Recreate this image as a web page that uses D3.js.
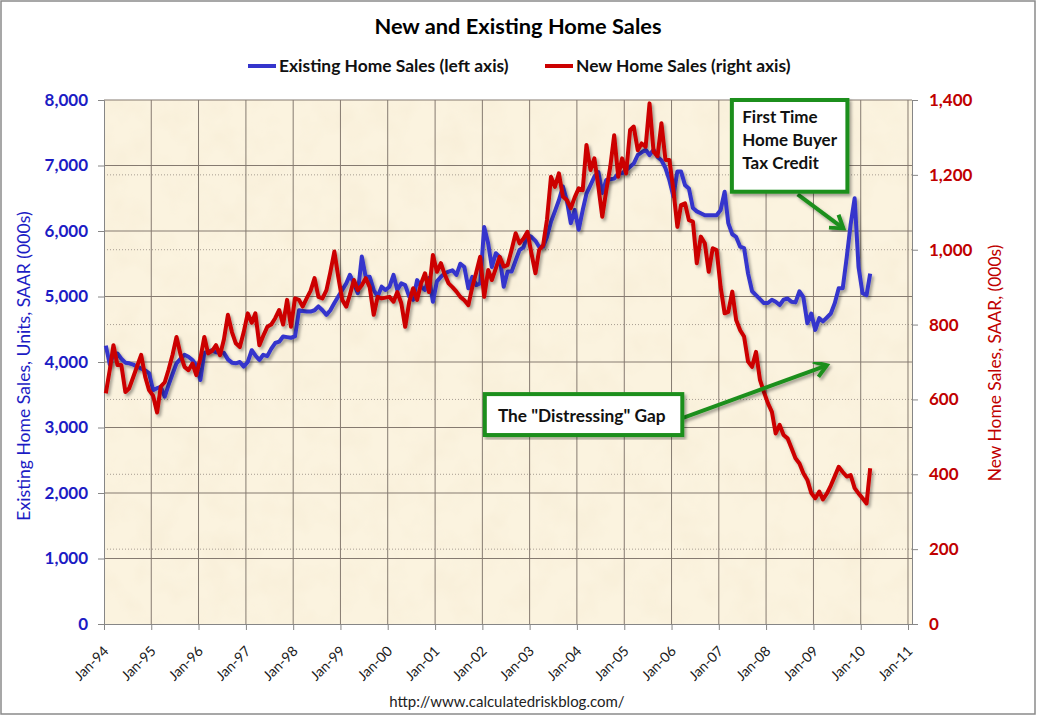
<!DOCTYPE html>
<html>
<head>
<meta charset="utf-8">
<title>New and Existing Home Sales</title>
<script src="https://cdn.jsdelivr.net/npm/d3@7"></script>
<style>
	body { margin: 0; background: #fff; }
	svg { display: block; font-family: Lato, "DejaVu Sans", sans-serif; }
</style>
</head>
<body>
<div id="chart-area"></div>
<script>

// Monthly series, Jan-94 .. Mar-10, thousands SAAR
const firstMonth = [1994, 0];

const existingSales = [
	4250, 3960, 4120, 4130, 4050, 3990, 3980, 3960, 3930, 3900, 3870, 3830,
	3570, 3600, 3620, 3470, 3650, 3820, 3980, 4050, 4110, 4080, 4030, 3950,
	3725, 4140, 4160, 4180, 4150, 4140, 4140, 4040, 3990, 3980, 4000, 3930,
	4000, 4180, 4100, 4030, 4110, 4090, 4200, 4290, 4310, 4390, 4380, 4370,
	4390, 4790, 4780, 4770, 4770, 4790, 4850, 4790, 4720, 4790, 4900, 5000,
	5100, 5200, 5330, 5200, 5050, 5610, 5300, 5300, 5100, 5000, 5150, 5100,
	5150, 5330, 5100, 5200, 5175, 5000, 4950, 5250, 5150, 5100, 5280, 4920,
	5230, 5300, 5350, 5380, 5400, 5330, 5500, 5450, 5125, 5300, 5175, 5200,
	6060, 5810, 5450, 5660, 5600, 5150, 5380, 5380, 5550, 5710, 5750, 5940,
	5910, 5850, 5760, 5760, 5910, 6140, 6300, 6470, 6680, 6470, 6120, 6320,
	6020, 6320, 6570, 6700, 6830, 6900, 6580, 6780, 6790, 6800, 6880, 6880,
	6930, 6980, 7030, 7160, 7200, 7240, 7160, 7240, 7130, 7080, 6960, 6780,
	6530, 6910, 6910, 6700, 6650, 6350, 6300, 6270, 6240, 6240, 6240, 6240,
	6320, 6600, 6120, 5950, 5910, 5760, 5740, 5350, 5080, 5020, 4960, 4900,
	4900, 4950, 4920, 4870, 4950, 4970, 4920, 4910, 5080, 4990, 4590, 4740,
	4490, 4670, 4620, 4680, 4740, 4900, 5125, 5125, 5600, 6100, 6500, 5450,
	5050, 5020, 5350
];

const newSales = [
	616, 680, 745, 692, 692, 620, 630, 660, 690, 719, 661, 625,
	610, 565, 634, 646, 680, 720, 767, 720, 687, 678, 696, 665,
	710, 767, 723, 730, 745, 718, 760, 826, 780, 750, 740, 780,
	830, 805, 830, 745, 770, 794, 800, 817, 839, 800, 866, 794,
	870, 866, 848, 870, 890, 924, 874, 870, 892, 940, 995, 928,
	866, 848, 880, 919, 892, 905, 924, 900, 826, 874, 870, 872,
	874, 861, 887, 857, 794, 860, 897, 866, 910, 937, 887, 986,
	941, 964, 935, 910, 900, 888, 874, 865, 852, 900, 940, 981,
	874, 946, 919, 950, 981, 955, 959, 1000, 1044, 1017, 1030, 1048,
	990, 937, 999, 1012, 1080, 1195, 1168, 1204, 1142, 1133, 1111, 1140,
	1164, 1159, 1280, 1213, 1244, 1168, 1088, 1159, 1222, 1306, 1195, 1244,
	1204, 1320, 1329, 1266, 1284, 1275, 1391, 1262, 1250, 1338, 1240, 1240,
	1160, 1061, 1119, 1124, 1079, 1075, 964, 1035, 1017, 941, 1004, 999,
	900, 830, 834, 888, 812, 785, 768, 701, 687, 727, 652, 620,
	590, 567, 509, 532, 505, 496, 470, 443, 429, 403, 385, 350,
	336, 354, 333, 349, 370, 395, 420, 406, 394, 398, 363, 349,
	336, 322, 416
];

const yearLabels = ["Jan-94", "Jan-95", "Jan-96", "Jan-97", "Jan-98", "Jan-99", "Jan-00", "Jan-01", "Jan-02",
	"Jan-03", "Jan-04", "Jan-05", "Jan-06", "Jan-07", "Jan-08", "Jan-09", "Jan-10", "Jan-11"];
const leftTicks = [0, 1000, 2000, 3000, 4000, 5000, 6000, 7000, 8000];
const rightTicks = [0, 200, 400, 600, 800, 1000, 1200, 1400];
const seriesNames = ["Existing Home Sales (left axis)", "New Home Sales (right axis)"];
const taxCreditText = ["First Time", "Home Buyer", "Tax Credit"];
const gapText = "The \"Distressing\" Gap";


/*
 * HomeSalesChart - two lines on two y axes, with call-out boxes
 */

class HomeSalesChart {

	constructor(parentElement, existing, fresh) {
		this.parentElement = parentElement;
		this.existing = existing;
		this.fresh = fresh;
		this.initVis();
	}

	initVis() {
		let vis = this;

		vis.margin = { top: 100, right: 125, bottom: 92, left: 104 };
		vis.width = 1037 - vis.margin.left - vis.margin.right;
		vis.height = 716 - vis.margin.top - vis.margin.bottom;

		vis.root = d3.select('#' + vis.parentElement).append("svg")
			.attr("width", 1037)
			.attr("height", 716);

		let defs = vis.root.append("defs");

		// parchment look of the plot area
		let paper = defs.append("filter").attr("id", "paper")
			.attr("x", 0).attr("y", 0).attr("width", 1).attr("height", 1);
		paper.append("feTurbulence")
			.attr("type", "fractalNoise")
			.attr("baseFrequency", "0.03")
			.attr("numOctaves", 3)
			.attr("seed", 7);
		paper.append("feColorMatrix")
			.attr("type", "matrix")
			.attr("values", "0 0 0 0 0.91  0 0 0 0 0.82  0 0 0 0 0.64  0.9 0 0 0 -0.36");
		paper.append("feComposite").attr("in2", "SourceGraphic").attr("operator", "in");

		defs.append("filter").attr("id", "shadow")
			.attr("x", "-5%").attr("y", "-5%").attr("width", "115%").attr("height", "115%")
			.append("feDropShadow")
			.attr("dx", 2).attr("dy", 2.5)
			.attr("stdDeviation", 1.4)
			.attr("flood-color", "#000")
			.attr("flood-opacity", 0.35);

		defs.append("marker").attr("id", "arrow")
			.attr("markerUnits", "userSpaceOnUse")
			.attr("markerWidth", 20).attr("markerHeight", 20)
			.attr("refX", 15).attr("refY", 10)
			.attr("orient", "auto")
			.append("path")
			.attr("d", "M3,2 L15,10 L3,18")
			.attr("fill", "none")
			.attr("stroke", "#1f8f1f")
			.attr("stroke-width", 4);

		// outer frame
		vis.root.append("rect")
			.attr("x", 1).attr("y", 1)
			.attr("width", 1034).attr("height", 713)
			.attr("fill", "#fff")
			.attr("stroke", "#8a8a8a")
			.attr("stroke-width", 1.5);

		vis.svg = vis.root.append("g")
			.attr("transform", "translate(" + vis.margin.left + "," + vis.margin.top + ")");

		vis.svg.append("rect")
			.attr("width", vis.width).attr("height", vis.height)
			.attr("fill", "#fbf3df");
		vis.svg.append("rect")
			.attr("width", vis.width).attr("height", vis.height)
			.attr("fill", "#fff")
			.attr("filter", "url(#paper)");

		// scales
		vis.x = d3.scaleTime()
			.domain([new Date(1994, 0, 1), new Date(2011, 1, 1)])
			.range([0, vis.width]);

		vis.yLeft = d3.scaleLinear()
			.domain([0, 8000])
			.range([vis.height, 0]);

		vis.yRight = d3.scaleLinear()
			.domain([0, 1400])
			.range([vis.height, 0]);

		vis.yearDates = yearLabels.map((d, i) => new Date(1994 + i, 0, 1));

		// gridlines
		vis.svg.append("g").attr("class", "grid-right")
			.selectAll("line").data(rightTicks.slice(1, -1))
			.enter().append("line")
			.attr("x1", 0).attr("x2", vis.width)
			.attr("y1", d => vis.yRight(d)).attr("y2", d => vis.yRight(d))
			.attr("stroke", "#a79d92")
			.attr("stroke-dasharray", "1,2");

		vis.svg.append("g").attr("class", "grid-left")
			.selectAll("line").data(leftTicks.slice(1))
			.enter().append("line")
			.attr("x1", 0).attr("x2", vis.width)
			.attr("y1", d => vis.yLeft(d)).attr("y2", d => vis.yLeft(d))
			.attr("stroke", "#857a70");

		vis.svg.append("g").attr("class", "grid-x")
			.selectAll("line").data(vis.yearDates.slice(1))
			.enter().append("line")
			.attr("x1", d => vis.x(d)).attr("x2", d => vis.x(d))
			.attr("y1", 0).attr("y2", vis.height)
			.attr("stroke", "#857a70");

		// axes
		vis.xAxis = d3.axisBottom(vis.x)
			.tickValues(vis.yearDates)
			.tickSize(6)
			.tickFormat((d, i) => yearLabels[i]);

		vis.yAxisLeft = d3.axisLeft(vis.yLeft)
			.tickValues(leftTicks)
			.tickSize(6)
			.tickPadding(10)
			.tickFormat(d3.format(","));

		vis.yAxisRight = d3.axisRight(vis.yRight)
			.tickValues(rightTicks)
			.tickSize(6)
			.tickPadding(11)
			.tickFormat(d3.format(","));

		let gx = vis.svg.append("g")
			.attr("class", "x-axis")
			.attr("transform", "translate(0," + vis.height + ")")
			.call(vis.xAxis);
		gx.select(".domain").attr("d", "M-6,0.5H" + (vis.width + 6));
		gx.selectAll("text")
			.attr("text-anchor", "end")
			.attr("x", 0).attr("y", 0).attr("dy", 0)
			.attr("transform", "translate(5,28) rotate(-45)")
			.attr("fill", "#1a1a1a")
			.style("font-size", "14px");

		let gl = vis.svg.append("g").attr("class", "y-axis-left").call(vis.yAxisLeft);
		gl.selectAll("text")
			.attr("fill", "#1c1cc4")
			.style("font-size", "17px")
			.style("font-weight", "bold");

		let gr = vis.svg.append("g")
			.attr("class", "y-axis-right")
			.attr("transform", "translate(" + vis.width + ",0)")
			.call(vis.yAxisRight);
		gr.selectAll("text")
			.attr("fill", "#c00000")
			.style("font-size", "17px")
			.style("font-weight", "bold");

		vis.svg.selectAll(".domain, .tick line").attr("stroke", "#868686");
		vis.svg.selectAll(".tick text").style("font-family", "Lato, sans-serif");

		// axis titles
		vis.root.append("text")
			.attr("transform", "translate(30,366) rotate(-90)")
			.attr("text-anchor", "middle")
			.attr("fill", "#1c1cc4")
			.style("font-size", "17.6px")
			.text("Existing Home Sales, Units, SAAR (000s)");

		vis.root.append("text")
			.attr("transform", "translate(1001,363) rotate(-90)")
			.attr("text-anchor", "middle")
			.attr("fill", "#c00000")
			.style("font-size", "17.4px")
			.text("New Home Sales, SAAR, (000s)");

		// title, legend, source
		vis.root.append("text")
			.attr("x", 518).attr("y", 34)
			.attr("text-anchor", "middle")
			.style("font-size", "21.8px")
			.style("font-weight", "bold")
			.text("New and Existing Home Sales");

		let legend = vis.root.append("g").attr("class", "legend");
		let legendX = [248, 545];
		let legendColors = ["#3535cc", "#cc0000"];
		seriesNames.forEach((name, i) => {
			legend.append("line")
				.attr("x1", legendX[i]).attr("x2", legendX[i] + 28)
				.attr("y1", 66).attr("y2", 66)
				.attr("stroke", legendColors[i])
				.attr("stroke-width", 4);
			legend.append("text")
				.attr("x", legendX[i] + 31).attr("y", 71.5)
				.style("font-size", "17.4px")
				.style("font-weight", "bold")
				.attr("fill", "#111")
				.text(name);
		});

		vis.root.append("text")
			.attr("x", 507).attr("y", 707)
			.attr("text-anchor", "middle")
			.attr("fill", "#222")
			.style("font-size", "15px")
			.text("http://www.calculatedriskblog.com/");

		vis.wrangleData();
	}

	wrangleData() {
		let vis = this;

		// one point per month, dated mid month
		let toPoints = arr => arr.map((v, i) => ({
			date: new Date(firstMonth[0], firstMonth[1] + i, 15),
			value: v
		}));

		vis.existingData = toPoints(vis.existing);
		vis.newData = toPoints(vis.fresh);

		vis.updateVis();
	}

	updateVis() {
		let vis = this;

		let lineLeft = d3.line()
			.x(d => vis.x(d.date))
			.y(d => vis.yLeft(d.value));

		let lineRight = d3.line()
			.x(d => vis.x(d.date))
			.y(d => vis.yRight(d.value));

		vis.svg.append("path")
			.datum(vis.existingData)
			.attr("class", "line existing")
			.attr("d", lineLeft)
			.attr("fill", "none")
			.attr("stroke", "#3535cc")
			.attr("stroke-width", 4)
			.attr("stroke-linejoin", "round")
			.attr("filter", "url(#shadow)");

		vis.svg.append("path")
			.datum(vis.newData)
			.attr("class", "line new")
			.attr("d", lineRight)
			.attr("fill", "none")
			.attr("stroke", "#cc0000")
			.attr("stroke-width", 4)
			.attr("stroke-linejoin", "round")
			.attr("filter", "url(#shadow)");

		// call-outs (placed in date / left-axis units)
		let ann = vis.svg.append("g").attr("class", "annotations");

		let arrow = (d0, v0, d1, v1) => ann.append("line")
			.attr("x1", vis.x(d0)).attr("y1", vis.yLeft(v0))
			.attr("x2", vis.x(d1)).attr("y2", vis.yLeft(v1))
			.attr("stroke", "#1f8f1f")
			.attr("stroke-width", 4)
			.attr("marker-end", "url(#arrow)")
			.attr("filter", "url(#shadow)");

		let box = (d0, v0, d1, v1) => ann.append("rect")
			.attr("x", vis.x(d0)).attr("y", vis.yLeft(v0))
			.attr("width", vis.x(d1) - vis.x(d0))
			.attr("height", vis.yLeft(v1) - vis.yLeft(v0))
			.attr("fill", "#fff")
			.attr("stroke", "#1f8f1f")
			.attr("stroke-width", 4)
			.attr("filter", "url(#shadow)");

		arrow(new Date(2008, 8, 1), 6560, new Date(2009, 7, 20), 6040);
		box(new Date(2007, 3, 12), 8000, new Date(2009, 8, 20), 6600);
		ann.selectAll(".tax").data(taxCreditText)
			.enter().append("text")
			.attr("class", "tax")
			.attr("x", vis.x(new Date(2007, 6, 1)))
			.attr("y", (d, i) => 23 + i * 23)
			.style("font-size", "17px")
			.style("font-weight", "bold")
			.attr("fill", "#111")
			.text(d => d);

		arrow(new Date(2006, 2, 20), 3140, new Date(2009, 3, 15), 3950);
		box(new Date(2002, 0, 20), 3510, new Date(2006, 2, 25), 2885);
		ann.append("text")
			.attr("x", vis.x(new Date(2002, 4, 1)))
			.attr("y", vis.yLeft(3080))
			.style("font-size", "17.3px")
			.style("font-weight", "bold")
			.attr("fill", "#111")
			.text(gapText);
	}
}

let chart = new HomeSalesChart("chart-area", existingSales, newSales);

</script>
</body>
</html>
